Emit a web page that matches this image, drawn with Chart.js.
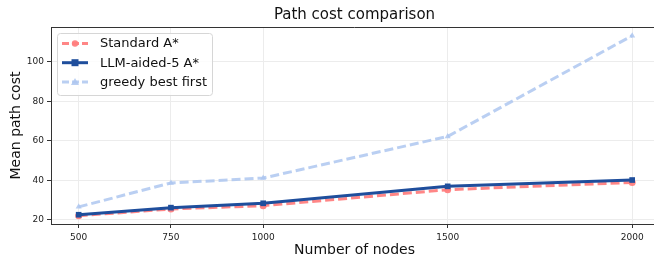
<!DOCTYPE html>
<html>
<head>
<meta charset="utf-8">
<script src="https://cdn.jsdelivr.net/npm/chart.js@4/dist/chart.umd.min.js"></script>
<style>
  html, body { margin: 0; padding: 0; background: #fff; overflow: hidden; }
  #wrap { width: 654px; height: 259px; overflow: hidden; }
</style>
</head>
<body>
<div id="wrap"><canvas id="pathChart" width="662" height="259"></canvas></div>
<script>
// data
const nodeCounts = [500, 750, 1000, 1500, 2000];
const standardAStar = [22.0, 25.4, 27.1, 35.2, 38.9];
const llmAidedAStar = [22.5, 26.1, 28.3, 36.9, 40.1];
const greedyBestFirst = [26.5, 38.6, 41.1, 62.2, 113.3];
const yTickValues = [20, 40, 60, 80, 100];

const FONT = "'DejaVu Sans', sans-serif";

function toPoints(values) {
  return nodeCounts.map((n, i) => ({ x: n, y: values[i] }));
}

const seriesStyles = [
  { label: 'Standard A*', color: 'rgba(255,128,128,0.95)', dash: [9, 4], marker: 'circle' },
  { label: 'LLM-aided-5 A*', color: '#1f4e9c', dash: [], marker: 'rect' },
  { label: 'greedy best first', color: 'rgba(174,199,240,0.85)', dash: [9, 4], marker: 'triangle' }
];

// legend drawn inside the plot, matplotlib style
const innerLegend = {
  id: 'innerLegend',
  afterDatasetsDraw(chart) {
    const ctx = chart.ctx;
    const x0 = 57.5, y0 = 33.5, w = 155, h = 62;
    ctx.save();
    ctx.beginPath();
    ctx.roundRect(x0, y0, w, h, 3);
    ctx.fillStyle = 'rgba(255,255,255,0.85)';
    ctx.fill();
    ctx.strokeStyle = '#d6d6d6';
    ctx.lineWidth = 1;
    ctx.stroke();
    seriesStyles.forEach((s, i) => {
      const cy = 43.5 + i * 19.2;
      ctx.beginPath();
      ctx.setLineDash(s.dash.length ? [7, 3] : []);
      ctx.strokeStyle = s.color;
      ctx.lineWidth = 3;
      ctx.moveTo(62, cy);
      ctx.lineTo(88, cy);
      ctx.stroke();
      ctx.setLineDash([]);
      ctx.fillStyle = s.color;
      ctx.beginPath();
      if (s.marker === 'circle') {
        ctx.arc(75, cy, 3.2, 0, Math.PI * 2);
      } else if (s.marker === 'rect') {
        ctx.rect(71.5, cy - 3.5, 7, 7);
      } else {
        ctx.moveTo(75, cy - 4);
        ctx.lineTo(79, cy + 3);
        ctx.lineTo(71, cy + 3);
        ctx.closePath();
      }
      ctx.fill();
      ctx.fillStyle = '#111';
      ctx.font = '13px ' + FONT;
      ctx.textBaseline = 'middle';
      ctx.fillText(s.label, 100, cy + 0.5);
    });
    ctx.restore();
  }
};

// top spine
const topSpine = {
  id: 'topSpine',
  afterDraw(chart) {
    const { ctx, chartArea } = chart;
    ctx.save();
    ctx.strokeStyle = '#333';
    ctx.lineWidth = 1;
    ctx.beginPath();
    ctx.moveTo(chartArea.left, chartArea.top + 0.5);
    ctx.lineTo(chartArea.right, chartArea.top + 0.5);
    ctx.stroke();
    ctx.restore();
  }
};

const datasetValues = [standardAStar, llmAidedAStar, greedyBestFirst];
const drawOrder = [3, 2, 1];

new Chart(document.getElementById('pathChart').getContext('2d'), {
  type: 'line',
  data: {
    datasets: seriesStyles.map((s, i) => ({
      label: s.label,
      data: toPoints(datasetValues[i]),
      borderColor: s.color,
      backgroundColor: s.color,
      borderWidth: 3,
      borderDash: s.dash,
      pointStyle: s.marker,
      pointRadius: s.marker === 'rect' ? 4 : 3.5,
      pointBorderWidth: 0,
      tension: 0,
      order: drawOrder[i]
    }))
  },
  options: {
    responsive: false,
    animation: false,
    layout: { padding: 0 },
    plugins: {
      legend: { display: false },
      tooltip: { enabled: false },
      title: {
        display: true,
        text: 'Path cost comparison',
        fullSize: false,
        color: '#111',
        font: { family: FONT, size: 15, weight: 'normal' },
        padding: { top: 6, bottom: 3 }
      }
    },
    scales: {
      x: {
        type: 'linear',
        min: 425,
        max: 2070,
        afterBuildTicks(scale) {
          scale.ticks = nodeCounts.map(v => ({ value: v }));
        },
        afterFit(scale) { scale.height = 35; },
        ticks: {
          color: '#222',
          font: { family: FONT, size: 9 },
          padding: 4,
          maxRotation: 0,
          callback: v => String(v)
        },
        grid: { color: '#ececec', tickColor: '#333', tickLength: 4 },
        border: { color: '#333', width: 1 },
        title: {
          display: true,
          text: 'Number of nodes',
          color: '#111',
          font: { family: FONT, size: 14 },
          padding: { top: 4, bottom: 0 }
        }
      },
      y: {
        min: 17.8,
        max: 117.7,
        afterBuildTicks(scale) {
          scale.ticks = yTickValues.map(v => ({ value: v }));
        },
        afterFit(scale) { scale.width = 51; },
        ticks: {
          color: '#222',
          font: { family: FONT, size: 9 },
          padding: 3
        },
        grid: { color: '#ececec', tickColor: '#333', tickLength: 4 },
        border: { color: '#333', width: 1 },
        title: {
          display: true,
          text: 'Mean path cost',
          color: '#111',
          font: { family: FONT, size: 14 },
          padding: { top: 8, bottom: 0 }
        }
      }
    }
  },
  plugins: [innerLegend, topSpine]
});
</script>
</body>
</html>
